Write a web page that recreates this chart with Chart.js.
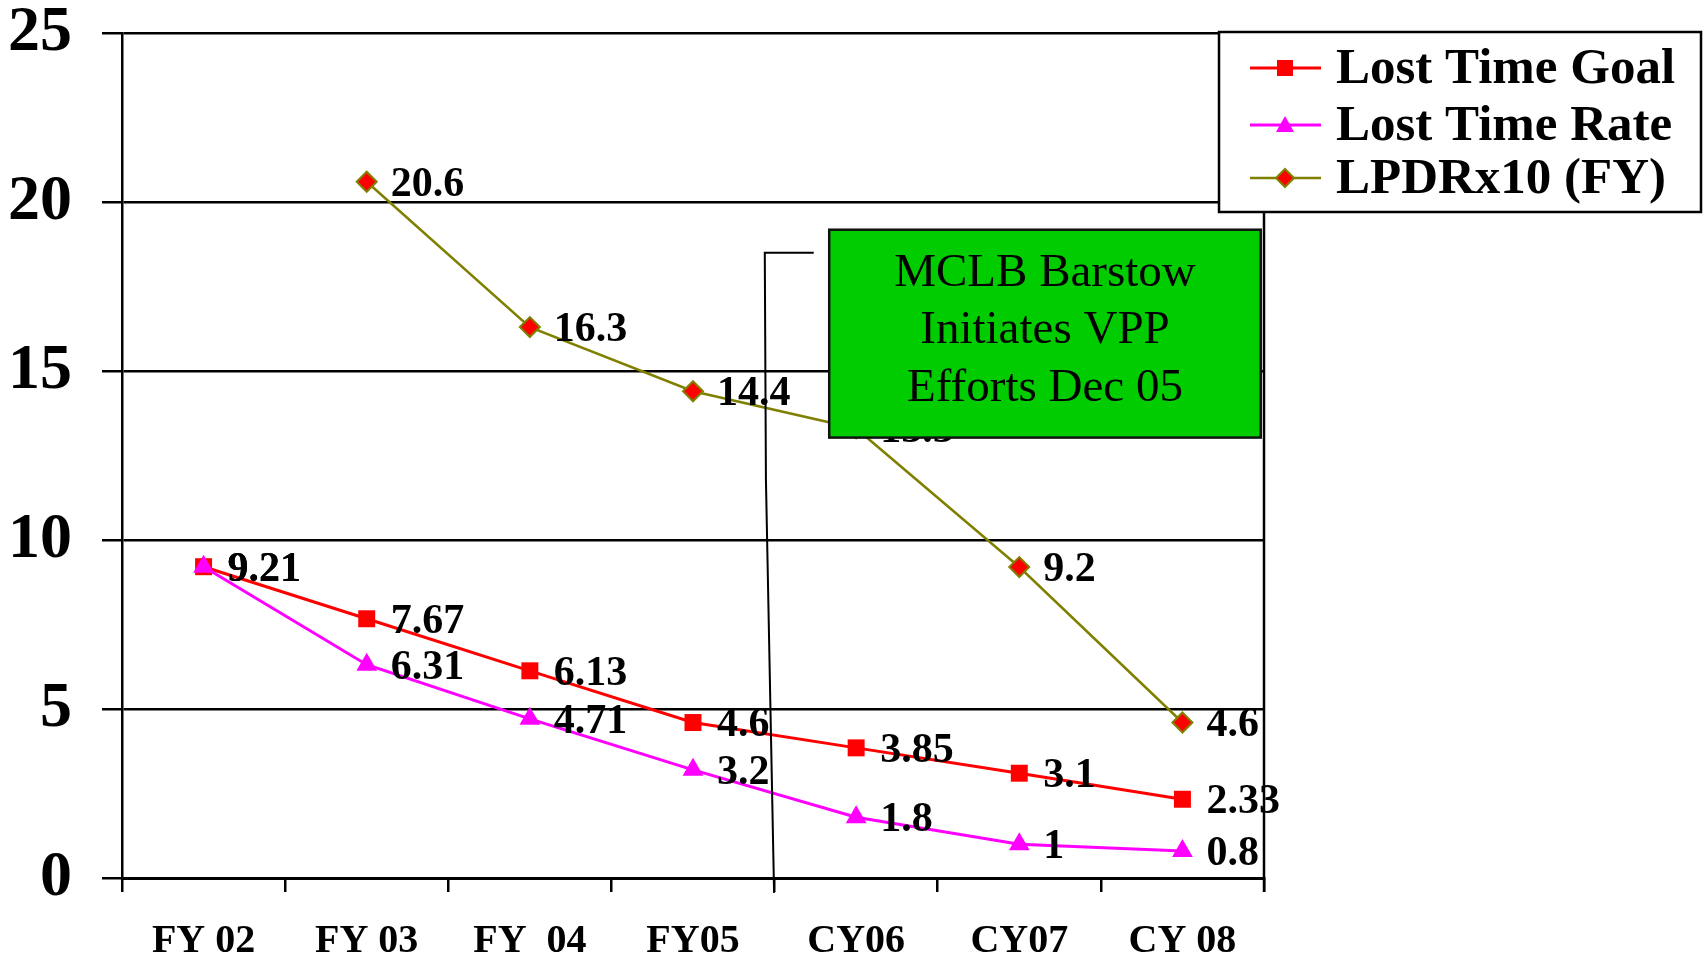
<!DOCTYPE html>
<html>
<head>
<meta charset="utf-8">
<script src="https://cdn.jsdelivr.net/npm/chart.js@4.4.1/dist/chart.umd.min.js"></script>
<style>
  html, body { margin: 0; padding: 0; background: #fff; }
  canvas { display: block; }
</style>
</head>
<body>
<canvas id="lostTimeChart" width="1708" height="960"></canvas>
<script>
// chart data
const categories = ["FY 02", "FY 03", "FY  04", "FY05", "CY06", "CY07", "CY 08"];
const lostTimeGoal = [9.21, 7.67, 6.13, 4.6, 3.85, 3.1, 2.33];
const lostTimeRate = [9.21, 6.31, 4.71, 3.2, 1.8, 1, 0.8];
const lpdrX10 = [null, 20.6, 16.3, 14.4, 13.3, 9.2, 4.6];
const yTicks = [0, 5, 10, 15, 20, 25];
const noteLines = ["MCLB Barstow", "Initiates VPP", "Efforts Dec 05"];

const SERIF = "'Liberation Serif', 'Times New Roman', serif";

// draw one marker shape (used by the legend)
function drawMarker(ctx, style, x, y, fill, stroke) {
    ctx.beginPath();
    if (style === "rect") {
        ctx.rect(x - 8, y - 8, 16, 16);
    } else if (style === "triangle") {
        ctx.moveTo(x, y - 9);
        ctx.lineTo(x + 9, y + 7);
        ctx.lineTo(x - 9, y + 7);
        ctx.closePath();
    } else {
        ctx.moveTo(x, y - 9);
        ctx.lineTo(x + 9, y);
        ctx.lineTo(x, y + 9);
        ctx.lineTo(x - 9, y);
        ctx.closePath();
    }
    ctx.fillStyle = fill;
    ctx.fill();
    if (stroke) {
        ctx.lineWidth = 2;
        ctx.strokeStyle = stroke;
        ctx.stroke();
    }
}

// value labels to the right of each point
const pointLabels = {
    id: "pointLabels",
    afterDatasetsDraw(chart) {
        const ctx = chart.ctx;
        ctx.save();
        ctx.font = "bold 42px " + SERIF;
        ctx.fillStyle = "#000";
        ctx.textBaseline = "middle";
        chart.data.datasets.forEach((ds, i) => {
            chart.getDatasetMeta(i).data.forEach((pt, j) => {
                if (ds.data[j] == null) return;
                ctx.fillText(String(ds.data[j]), pt.x + 24, pt.y + 3);
            });
        });
        ctx.restore();
    }
};

// frame, VPP note with bracket, and legend box
const extras = {
    id: "extras",
    afterDraw(chart) {
        const ctx = chart.ctx;
        const xs = chart.scales.x, ys = chart.scales.y;
        const area = chart.chartArea;
        ctx.save();

        // right edge of plot frame
        ctx.strokeStyle = "#000";
        ctx.lineWidth = 2.5;
        ctx.beginPath();
        ctx.moveTo(area.right, area.top);
        ctx.lineTo(area.right, area.bottom + 14);
        ctx.stroke();

        // bracket marking start of VPP
        ctx.lineWidth = 2;
        ctx.beginPath();
        ctx.moveTo(xs.getPixelForValue(3.74), ys.getPixelForValue(18.5));
        ctx.lineTo(xs.getPixelForValue(3.44), ys.getPixelForValue(18.5));
        ctx.lineTo(xs.getPixelForValue(3.447), ys.getPixelForValue(11.8));
        ctx.lineTo(xs.getPixelForValue(3.497), ys.getPixelForValue(-0.44));
        ctx.stroke();

        // green note box
        const bx1 = xs.getPixelForValue(3.835), bx2 = xs.getPixelForValue(6.48);
        const by1 = ys.getPixelForValue(19.18), by2 = ys.getPixelForValue(13.03);
        ctx.fillStyle = "#00CC00";
        ctx.fillRect(bx1, by1, bx2 - bx1, by2 - by1);
        ctx.strokeStyle = "#111";
        ctx.lineWidth = 2.5;
        ctx.strokeRect(bx1, by1, bx2 - bx1, by2 - by1);
        ctx.fillStyle = "#000";
        ctx.font = "47px " + SERIF;
        ctx.textAlign = "center";
        ctx.textBaseline = "alphabetic";
        noteLines.forEach((t, i) => {
            ctx.fillText(t, (bx1 + bx2) / 2, by1 + 56 + i * 57.5);
        });

        // legend
        ctx.fillStyle = "#fff";
        ctx.fillRect(1219, 32, 482, 180);
        ctx.strokeStyle = "#000";
        ctx.lineWidth = 2.5;
        ctx.strokeRect(1219, 32, 482, 180);
        const rowY = [68, 125, 178];
        ctx.font = "bold 51px " + SERIF;
        ctx.textAlign = "left";
        chart.data.datasets.forEach((ds, i) => {
            const y = rowY[i];
            ctx.strokeStyle = ds.borderColor;
            ctx.lineWidth = ds.borderWidth;
            ctx.beginPath();
            ctx.moveTo(1250, y);
            ctx.lineTo(1321, y);
            ctx.stroke();
            drawMarker(ctx, ds.pointStyle, 1285, y, ds.pointBackgroundColor,
                ds.pointStyle === "rectRot" ? ds.pointBorderColor : null);
            ctx.fillStyle = "#000";
            ctx.fillText(ds.label, 1336, y + 15);
        });
        ctx.restore();
    }
};

const ctx = document.getElementById("lostTimeChart").getContext("2d");
new Chart(ctx, {
    type: "line",
    data: {
        labels: categories,
        datasets: [
            {
                label: "Lost Time Goal",
                data: lostTimeGoal,
                order: 1,
                borderColor: "#FF0000",
                backgroundColor: "#FF0000",
                pointBackgroundColor: "#FF0000",
                pointBorderColor: "#FF0000",
                pointStyle: "rect",
                pointRadius: 12,
                pointBorderWidth: 0,
                borderWidth: 3,
            },
            {
                label: "Lost Time Rate",
                data: lostTimeRate,
                order: 0,
                borderColor: "#FF00FF",
                backgroundColor: "#FF00FF",
                pointBackgroundColor: "#FF00FF",
                pointBorderColor: "#FF00FF",
                pointStyle: "triangle",
                pointRadius: 12,
                pointBorderWidth: 0,
                borderWidth: 3,
            },
            {
                label: "LPDRx10 (FY)",
                data: lpdrX10,
                order: 2,
                borderColor: "#808000",
                backgroundColor: "#808000",
                pointBackgroundColor: "#FF0000",
                pointBorderColor: "#808000",
                pointStyle: "rectRot",
                pointRadius: 10,
                pointBorderWidth: 2,
                borderWidth: 2.5,
            },
        ],
    },
    options: {
        responsive: false,
        animation: false,
        devicePixelRatio: 1,
        layout: { padding: { top: 33, right: 444, bottom: 0, left: 0 } },
        elements: { line: { tension: 0 } },
        plugins: {
            legend: { display: false },
            tooltip: { enabled: false },
        },
        scales: {
            x: {
                offset: true,
                grid: {
                    offset: true,
                    drawOnChartArea: false,
                    tickLength: 14,
                    color: "#000",
                    lineWidth: 2.5,
                },
                border: { display: true, color: "#000", width: 3 },
                ticks: {
                    autoSkip: false,
                    maxRotation: 0,
                    padding: 30,
                    color: "#000",
                    font: { family: SERIF, size: 40, weight: "bold", lineHeight: 1 },
                },
                afterFit(scale) {
                    scale.height = 82;
                    scale.paddingLeft = 0;
                    scale.paddingRight = 0;
                },
            },
            y: {
                min: 0,
                max: 25,
                afterBuildTicks(scale) { scale.ticks = yTicks.map(v => ({ value: v })); },
                grid: { color: "#000", lineWidth: 2.5, tickLength: 20 },
                border: { display: true, color: "#000", width: 2.5 },
                ticks: {
                    padding: 30,
                    color: "#000",
                    font: { family: SERIF, size: 64, weight: "bold", lineHeight: 1 },
                },
                afterFit(scale) {
                    scale.width = 122;
                    scale.paddingTop = 0;
                    scale.paddingBottom = 0;
                },
            },
        },
    },
    plugins: [pointLabels, extras],
});
</script>
</body>
</html>
